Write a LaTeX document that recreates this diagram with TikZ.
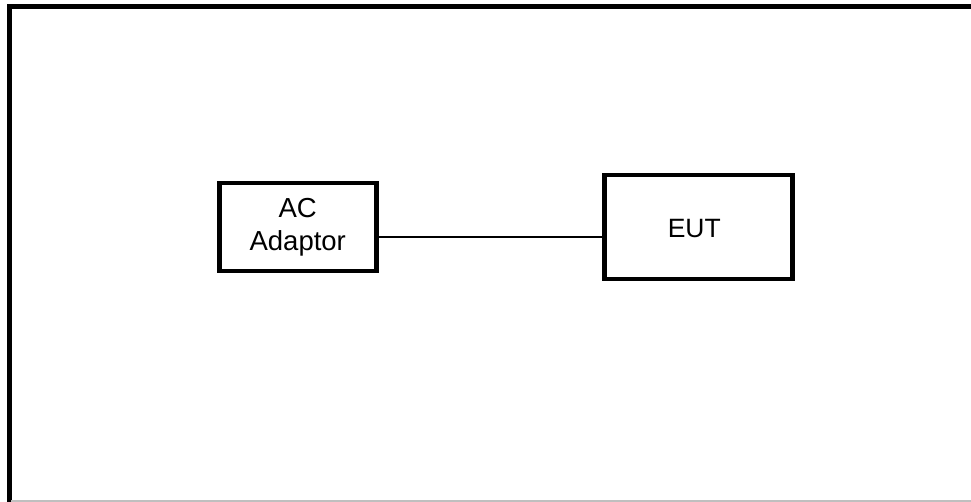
\documentclass[tikz,border=0pt]{standalone}
\usepackage{fontspec}
\setmainfont{Liberation Sans}
\begin{document}
\begin{tikzpicture}[x=1pt,y=-1pt,
  blk/.style={draw=black,line width=4.5pt,inner sep=0pt,anchor=north west,
    align=center},
  wire/.style={draw=black,line width=1.8pt}]
\useasboundingbox (0,0) rectangle (971,502);
\coordinate (tl) at (9,6.8);
\coordinate (tr) at (971,6.8);
\coordinate (bl) at (9,502);
\coordinate (gb1) at (11,501);
\coordinate (gb2) at (971,501);
\draw[line width=5pt,line cap=rect] (bl) -- (tl) -- (tr);
\draw[line width=1.6pt,draw=black!25] (gb1) -- (gb2);
\node[blk,minimum width=157pt,minimum height=88pt,
  font=\fontsize{27.5}{33}\selectfont] (ac) at (217,181) {AC\\Adaptor};
\node[blk,minimum width=188pt,minimum height=104pt] (eut) at (602,173) {};
\node[font=\fontsize{26.5}{32}\selectfont,inner sep=0pt] (eutt) at ([xshift=-4pt,yshift=-1pt]eut.center) {EUT};
\coordinate (w1) at ([yshift=-9.5pt]ac.east);
\draw[wire] (w1) -- (w1 -| eut.west);
\end{tikzpicture}
\end{document}
